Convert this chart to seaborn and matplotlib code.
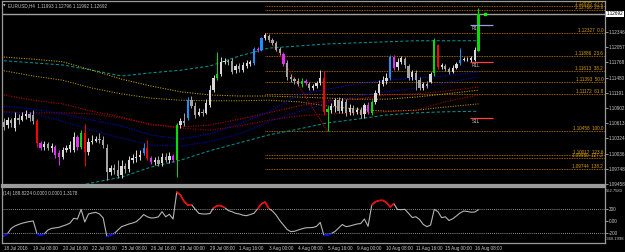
import numpy as np
import pandas as pd
import matplotlib
matplotlib.use('Agg')
import matplotlib.pyplot as plt
import matplotlib.transforms as mtrans
import seaborn as sns

# ---------------------------------------------------
# EURUSD H4, 18 Jul - 16 Aug 2016
# ---------------------------------------------------
opens = [
    1.1064, 1.1058, 1.1067, 1.1052, 1.1071, 1.1067, 1.1075, 1.1079, 1.1077, 1.1065,
    1.1024, 1.1016, 1.1022, 1.1014, 1.1016, 1.1005, 1.0997, 1.1010, 1.1012, 1.1010,
    1.1035, 1.1016, 1.1043, 1.1007, 1.1026, 1.1028, 1.1031, 1.1029, 1.1014, 1.0968,
    1.0976, 1.0972, 1.0963, 1.0980, 1.0974, 1.0991, 1.0995, 1.0997, 1.1005, 1.1014,
    1.0995, 1.0988, 1.0991, 1.0986, 1.0997, 1.0991, 1.0999, 1.0991, 1.1058, 1.1065,
    1.1071, 1.1105, 1.1094, 1.1077, 1.1083, 1.1081, 1.1096, 1.1124, 1.1147, 1.1155,
    1.1178, 1.1180, 1.1180, 1.1162, 1.1170, 1.1162, 1.1170, 1.1174, 1.1176, 1.1202,
    1.1200, 1.1223, 1.1227, 1.1219, 1.1214, 1.1202, 1.1193, 1.1176, 1.1149, 1.1145,
    1.1142, 1.1136, 1.1142, 1.1136, 1.1128, 1.1132, 1.1138, 1.1147, 1.1083, 1.1086,
    1.1094, 1.1105, 1.1084, 1.1102, 1.1083, 1.1090, 1.1083, 1.1086, 1.1079, 1.1096,
    1.1081, 1.1102, 1.1119, 1.1136, 1.1142, 1.1147, 1.1187, 1.1168, 1.1178, 1.1183,
    1.1170, 1.1149, 1.1157, 1.1143, 1.1128, 1.1136, 1.1140, 1.1157, 1.1210, 1.1168,
    1.1170, 1.1164, 1.1159, 1.1166, 1.1176, 1.1181, 1.1181, 1.1181, 1.1181, 1.11993]
closes = [
    1.1054, 1.1067, 1.1062, 1.1071, 1.1067, 1.1075, 1.1079, 1.1071, 1.1065, 1.1024,
    1.1014, 1.1022, 1.1014, 1.1018, 1.1001, 1.0997, 1.1010, 1.1014, 1.1020, 1.1035,
    1.1016, 1.1043, 1.1007, 1.1026, 1.1028, 1.1031, 1.1029, 1.1020, 1.0968, 1.0976,
    1.0972, 1.0961, 1.0980, 1.0974, 1.0991, 1.0995, 1.0997, 1.1001, 1.1014, 1.0995,
    1.0988, 1.0991, 1.0984, 1.0997, 1.0991, 1.0999, 1.0991, 1.1058, 1.1065, 1.1062,
    1.1105, 1.1094, 1.1077, 1.1083, 1.1081, 1.1100, 1.1124, 1.1147, 1.1155, 1.1178,
    1.1180, 1.1178, 1.1159, 1.1170, 1.1164, 1.1172, 1.1176, 1.1178, 1.1202, 1.1200,
    1.1223, 1.1229, 1.1219, 1.1214, 1.1200, 1.1195, 1.1174, 1.1149, 1.1145, 1.1142,
    1.1136, 1.1142, 1.1138, 1.1128, 1.1132, 1.1138, 1.1147, 1.1083, 1.1088, 1.1094,
    1.1105, 1.1084, 1.1104, 1.1081, 1.1090, 1.1081, 1.1086, 1.1077, 1.1096, 1.1083,
    1.1102, 1.1119, 1.1136, 1.1143, 1.1147, 1.1187, 1.1166, 1.1178, 1.1185, 1.1172,
    1.1147, 1.1159, 1.1143, 1.1128, 1.1136, 1.1132, 1.1155, 1.1219, 1.1168, 1.1172,
    1.1164, 1.1159, 1.1166, 1.1174, 1.1181, 1.1183, 1.1182, 1.1185, 1.1200, 1.12692]
highs = [
    1.1071, 1.1073, 1.1071, 1.1083, 1.1079, 1.1083, 1.1086, 1.1083, 1.1086, 1.1069,
    1.1028, 1.1028, 1.1026, 1.1024, 1.1020, 1.1010, 1.1016, 1.1020, 1.1028, 1.1045,
    1.1039, 1.1048, 1.1060, 1.1033, 1.1039, 1.1037, 1.1043, 1.1037, 1.1022, 1.0982,
    1.0984, 1.0991, 1.0991, 1.0986, 1.0999, 1.1003, 1.1010, 1.1010, 1.1024, 1.1029,
    1.0999, 1.0997, 1.0999, 1.1005, 1.1005, 1.1007, 1.1003, 1.1062, 1.1071, 1.1081,
    1.1111, 1.1113, 1.1102, 1.1090, 1.1088, 1.1107, 1.1134, 1.1153, 1.1197, 1.1187,
    1.1185, 1.1183, 1.1185, 1.1174, 1.1176, 1.1178, 1.1181, 1.1181, 1.1206, 1.1206,
    1.1225, 1.1233, 1.1231, 1.1223, 1.1218, 1.1206, 1.1197, 1.1181, 1.1155, 1.1149,
    1.1147, 1.1147, 1.1145, 1.1140, 1.1136, 1.1142, 1.1162, 1.1161, 1.1094, 1.1100,
    1.1109, 1.1111, 1.1109, 1.1107, 1.1098, 1.1096, 1.1092, 1.1092, 1.1100, 1.1102,
    1.1105, 1.1124, 1.1143, 1.1151, 1.1157, 1.1191, 1.1191, 1.1185, 1.1189, 1.1187,
    1.1174, 1.1162, 1.1162, 1.1149, 1.1140, 1.1142, 1.1159, 1.1223, 1.1212, 1.1176,
    1.1174, 1.1168, 1.1172, 1.1178, 1.1204, 1.1187, 1.1187, 1.1189, 1.1206, 1.12796]
lows = [
    1.1048, 1.1052, 1.1054, 1.1046, 1.1060, 1.1065, 1.1069, 1.1065, 1.1060, 1.1016,
    1.1010, 1.1010, 1.1010, 1.1007, 1.0995, 1.0982, 1.0993, 1.1007, 1.1007, 1.1007,
    1.1010, 1.1012, 1.0980, 1.1001, 1.1022, 1.1026, 1.1024, 1.1014, 1.0953, 1.0963,
    1.0964, 1.0957, 1.0957, 1.0966, 1.0968, 1.0986, 1.0988, 1.0991, 1.1001, 1.0991,
    1.0984, 1.0982, 1.0980, 1.0980, 1.0988, 1.0986, 1.0988, 1.0959, 1.1052, 1.1056,
    1.1067, 1.1090, 1.1071, 1.1075, 1.1075, 1.1079, 1.1092, 1.1121, 1.1143, 1.1151,
    1.1174, 1.1172, 1.1155, 1.1157, 1.1159, 1.1159, 1.1166, 1.1170, 1.1172, 1.1197,
    1.1199, 1.1219, 1.1216, 1.1210, 1.1199, 1.1191, 1.1170, 1.1143, 1.1140, 1.1136,
    1.1132, 1.1130, 1.1134, 1.1124, 1.1124, 1.1128, 1.1134, 1.1077, 1.1046, 1.1081,
    1.1083, 1.1081, 1.1081, 1.1075, 1.1077, 1.1077, 1.1079, 1.1071, 1.1071, 1.1079,
    1.1077, 1.1098, 1.1115, 1.1132, 1.1136, 1.1143, 1.1162, 1.1162, 1.1174, 1.1166,
    1.1143, 1.1143, 1.1124, 1.1124, 1.1124, 1.1128, 1.1138, 1.1151, 1.1164, 1.1164,
    1.1161, 1.1155, 1.1157, 1.1164, 1.1172, 1.1180, 1.1180, 1.1178, 1.1180, 1.11992]

# candles painted by the pattern indicator
special_idx = [9, 10, 14, 15, 20, 21, 22, 38, 39, 40, 46, 47, 50, 58, 68, 69, 70, 76, 81, 82,
               87, 88, 99, 100, 105, 106, 117, 118, 124, 129]
special_col = ['red', 'mag', 'mag', 'mag', 'mag', 'lime', 'red', 'blue', 'red', 'mag',
               'mag', 'lime', 'blue', 'lime', 'blue', 'mag', 'blue', 'mag', 'lime', 'mag',
               'red', 'lime', 'mag', 'lime', 'blue', 'mag', 'lime', 'red', 'blue', 'lime']

# moving averages / bands, sampled every 8 bars
ma_idx = [0, 8, 16, 24, 32, 40, 48, 56, 64, 72, 80, 88, 96, 104, 112, 120, 129]
teal_hi = [1.1180, 1.1176, 1.1172, 1.1162, 1.1151, 1.1157, 1.1162, 1.1170, 1.1189, 1.1204,
           1.1208, 1.1212, 1.1214, 1.1216, 1.1218, 1.1218, 1.1218]
teal_lo = [1.0919, 1.0927, 1.0936, 1.0948, 1.0959, 1.0978, 1.0991, 1.1009, 1.1024, 1.1039,
           1.1050, 1.1062, 1.1069, 1.1077, 1.1081, 1.1083, 1.1084]
gold_hi = [1.1187, 1.1183, 1.1178, 1.1162, 1.1145, 1.1132, 1.1121, 1.1115, 1.1113, 1.1113,
           1.1111, 1.1109, 1.1107, 1.1107, 1.1111, 1.1117, 1.1124]
gold_lo = [1.1161, 1.1151, 1.1143, 1.1128, 1.1117, 1.1109, 1.1105, 1.1104, 1.1104, 1.1105,
           1.1102, 1.1094, 1.1088, 1.1084, 1.1086, 1.1092, 1.1098]
red_hi = [1.1115, 1.1105, 1.1098, 1.1084, 1.1073, 1.1058, 1.1054, 1.1058, 1.1069, 1.1081,
          1.1094, 1.1104, 1.1107, 1.1115, 1.1117, 1.1122, 1.1130]
red_lo = [1.1083, 1.1081, 1.1081, 1.1079, 1.1071, 1.1060, 1.1052, 1.1048, 1.1056, 1.1067,
          1.1075, 1.1079, 1.1081, 1.1083, 1.1086, 1.1102, 1.1115]
blue_hi = [1.1094, 1.1088, 1.1079, 1.1067, 1.1056, 1.1039, 1.1031, 1.1041, 1.1060, 1.1083,
           1.1115, 1.1126, 1.1136, 1.1143, 1.1147, 1.1151, 1.1159]
blue_lo = [1.1081, 1.1081, 1.1065, 1.1048, 1.1033, 1.1020, 1.1018, 1.1026, 1.1041, 1.1064,
           1.1083, 1.1100, 1.1113, 1.1121, 1.1128, 1.1138, 1.1149]

# fibonacci retracement (anchored 1 Aug 16:00 high -> 5 Aug 04:00 low)
fib_anchor_idx = [71, 88]
fib_prices = [1.12835, 1.12768, 1.12327, 1.11886, 1.11613, 1.11393, 1.11172,
              1.10458, 1.10017, 1.09950, 1.09744]
fib_names = ['27.2', '23.6', '0.0', '23.6', '38.2', '50.0', '61.8',
             '100.0', '123.6', '127.2', '138.2']

# pivot style levels drawn near the last bars
lvl_prices = [1.1248, 1.1178, 1.1071]
lvl_names = ['R1H', 'R1L', 'S1L']
lvl_colors = ['#9a9ae6', '#ff4040', '#ff4040']

# CCI(14)
cci = [-245, -205, -120, -80, -55, -34, -19, -6, 2, -205,
       -235, -210, -146, -119, -110, -102, -80, -60, -31, 47,
       35, 195, -14, 118, 134, 145, 118, 52, -254, -229,
       -205, -146, -91, -69, -47, -31, -9, 44, 109, 72,
       52, 55, 72, 156, 72, 113, 35, 480, 431, 324,
       266, 274, 198, 129, 118, 118, 126, 217, 255, 255,
       225, 175, 156, 129, 118, 98, 90, 109, 129, 205,
       283, 316, 209, 167, 101, 10, -64, -138, -173, -167,
       -146, -127, -110, -108, -105, -85, -22, -237, -229, -204,
       -171, -113, -55, -91, -80, -64, -47, -39, 35, -85,
       266, 319, 340, 343, 307, 233, 291, 192, 189, 195,
       129, 60, 72, 27, -55, -91, -64, 195, 156, 57,
       72, 10, 39, 85, 134, 167, 159, 147, 150, 188.8224]
cci_max, cci_min = 562.7583, -360.1998

price_ticks = [1.12346, 1.12057, 1.11768, 1.11480, 1.11191, 1.10902, 1.10613,
               1.10324, 1.10036, 1.09748, 1.09458]
time_idx = [0, 8, 16, 24, 32, 40, 48, 56, 64, 72, 80, 88, 96, 104, 112, 120, 128]
time_labels = ['18 Jul 2016', '19 Jul 08:00', '20 Jul 16:00', '22 Jul 00:00', '25 Jul 08:00',
               '26 Jul 16:00', '28 Jul 00:00', '29 Jul 08:00', '1 Aug 16:00', '3 Aug 00:00',
               '4 Aug 08:00', '5 Aug 16:00', '9 Aug 00:00', '10 Aug 08:00', '11 Aug 16:00',
               '15 Aug 00:00', '16 Aug 08:00']
# ---------------------------------------------------

TXT = '#c8c8c8'
EDGE = '#9a9a9a'
FS = 3.3
palette = {'red': '#ff0000', 'mag': '#e030f0', 'lime': '#00e000', 'blue': '#1e8fff'}

sns.set_style('dark', {'axes.facecolor': 'black', 'figure.facecolor': 'black'})
plt.rcParams['font.family'] = ['Liberation Sans', 'DejaVu Sans']

fig = plt.figure(figsize=(6.25, 2.52), dpi=100)
fig.patch.set_facecolor('black')
ax = fig.add_axes([2 / 625, 1 - 185 / 252, 603 / 625, 184 / 252])
ax2 = fig.add_axes([2 / 625, 1 - 243 / 252, 603 / 625, 56 / 252])
XLIM = (-0.5, 163.4)

# ---- candles ----
o, h, l, c = map(np.array, (opens, highs, lows, closes))
bars = np.arange(len(c))
cols = np.where(c >= o, '#d8d8d8', '#a4a4a4').astype(object)
for i, k in zip(special_idx, special_col):
    cols[i] = palette[k]
ax.vlines(bars, l, h, colors=list(cols), lw=0.7, zorder=3)
ax.bar(bars, np.maximum(np.abs(c - o), 0.00005), bottom=np.minimum(o, c), width=0.62,
       color=list(cols), linewidth=0, zorder=4)

# ---- moving averages ----
dot = (0, (1, 1.4))
for vals, col, ls in [(teal_hi, '#009090', (0, (3, 2))), (teal_lo, '#009090', (0, (3, 2))),
                      (gold_hi, '#d0aa00', dot), (gold_lo, '#c09800', dot),
                      (red_hi, '#c80000', dot), (red_lo, '#b00000', dot),
                      (blue_hi, '#0000f0', dot), (blue_lo, '#0000d0', dot)]:
    sns.lineplot(x=ma_idx, y=vals, ax=ax, color=col, lw=0.75, linestyle=ls,
                 errorbar=None, legend=False, zorder=2)

# ---- fibonacci ----
ax.hlines(fib_prices, fib_anchor_idx[0], XLIM[1], colors='#d08000', lw=0.6,
          linestyles=[(0, (1, 1))], zorder=1)
ax.plot(fib_anchor_idx, [fib_prices[2], fib_prices[7]], color='#d00000', lw=0.7,
        ls=(0, (1, 1.2)), zorder=2)
tr = mtrans.blended_transform_factory(ax.transAxes, ax.transData)
for p, name in zip(fib_prices, fib_names):
    ax.text(0.997, p, f'{p:.5f}  {name}', transform=tr, ha='right', va='bottom',
            fontsize=FS, color='#d8a000')

# ---- levels ----
for p, name, col in zip(lvl_prices, lvl_names, lvl_colors):
    ax.hlines(p, 126.6, 132.9, colors=col, lw=0.9, zorder=5)
    ax.text(127.2, p - 0.0002, name, ha='left', va='top', fontsize=FS, color=TXT)

# bid line + price box
ax.axhline(c[-1], color='#a0a0a0', lw=1.0, zorder=1)
ax.plot([130.7], [c[-1]], marker='s', ms=1.8, color='#00ff00', zorder=6)
ax.text(1.003, c[-1], f'{c[-1]:.5f}', transform=tr, ha='left', va='center', fontsize=FS,
        color='black', bbox=dict(boxstyle='square,pad=0.15', fc='white', ec='none'))

ax.set_xlim(*XLIM)
ax.set_ylim(1.09439, 1.12935)
ax.set_xticks([])
ax.yaxis.tick_right()
ax.set_yticks(price_ticks)
ax.set_yticklabels([f'{v:.5f}' for v in price_ticks])
ax.tick_params(axis='y', colors=TXT, labelsize=FS, length=2, width=0.5, pad=1)
ax.set_xlabel('')
ax.set_ylabel('')

# title line
fig.text(3 / 625, 1 - 5.5 / 252, '\u25bc', fontsize=2.4, color=TXT, va='center',
         family=['DejaVu Sans'])
fig.text(8 / 625, 1 - 5.5 / 252,
         f'EURUSD,H4  {o[-1]:.5f} {h[-1]:.5f} {l[-1]:.5f} {c[-1]:.5f}',
         fontsize=FS, color=TXT, va='center')

# ---- CCI ----
cci = np.array(cci, dtype=float)
sns.lineplot(x=bars, y=cci, ax=ax2, color='#b4b4b4', lw=0.8, errorbar=None, legend=False)
ax2.plot(bars, np.where(cci >= 200, cci, np.nan), color='#ff0000', lw=1.1)
ax2.plot(bars, np.where(cci <= -200, cci, np.nan), color='#0000ff', lw=1.1)
for lv in (200, -200):
    ax2.axhline(lv, color='#c0c0c0', lw=0.6, ls=(0, (1, 1.5)))
ax2.set_xlim(*XLIM)
ax2.set_ylim(cci_min, cci_max)
ax2.yaxis.tick_right()
ax2.set_yticks([200, 0, -200])
ax2.set_yticklabels(['200', '0.00', '-200'])
ax2.set_xticks(time_idx)
ax2.set_xticklabels(time_labels, ha='left')
ax2.tick_params(axis='y', colors=TXT, labelsize=FS, length=2, width=0.5, pad=1)
ax2.tick_params(axis='x', colors=TXT, labelsize=FS, length=1.5, width=0.5, pad=0.6)
ax2.set_xlabel('')
ax2.set_ylabel('')
tr2 = mtrans.blended_transform_factory(ax2.transAxes, ax2.transAxes)
ax2.text(1.002, 0.97, f'{cci_max:.4f}', transform=tr2, ha='left', va='top', fontsize=3.0, color=TXT)
ax2.text(1.002, 0.03, f'{cci_min:.4f}', transform=tr2, ha='left', va='bottom', fontsize=3.0, color=TXT)
ax2.text(0.002, 0.93, f'(14) {cci[-1]:.4f} 0.0000 0.0000 1.3178', transform=ax2.transAxes,
         ha='left', va='top', fontsize=FS, color=TXT)

for a in (ax, ax2):
    a.grid(False)
    a.set_facecolor('black')
    for s in a.spines.values():
        s.set_color(EDGE)
        s.set_linewidth(0.9)
ax.spines['bottom'].set_linewidth(1.6)
ax2.spines['top'].set_linewidth(1.6)

fig.savefig('out.png', dpi=100, facecolor='black')
